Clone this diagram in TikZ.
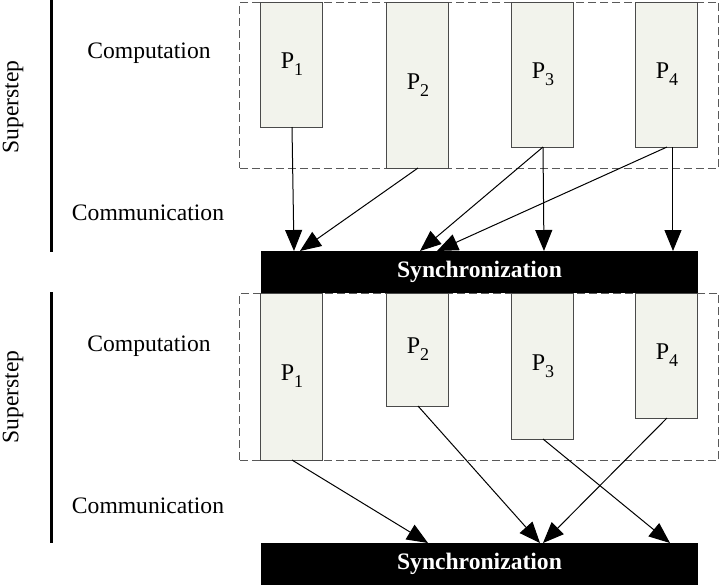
\documentclass[tikz,border=0pt]{standalone}
\usepackage{fontspec}
\setmainfont{Liberation Serif}
\usetikzlibrary{arrows.meta}
\definecolor{pfill}{HTML}{F2F3EC}
\definecolor{pedge}{HTML}{4A4A4A}
\newcommand{\psub}[1]{P\raisebox{-0.3em}{\fontsize{9}{10}\selectfont #1}}
\tikzset{
  txt/.style={font=\fontsize{11.8}{14}\selectfont, inner sep=0pt},
  pbox/.style={draw=pedge, fill=pfill, line width=0.5pt, anchor=north west,
    inner sep=0pt, outer sep=0pt, minimum width=31pt,
    font=\fontsize{12}{14}\selectfont},
  syncbar/.style={fill=black, anchor=north west, inner sep=0pt, outer sep=0pt,
    minimum width=218.5pt, minimum height=21pt, text=white,
    font=\fontsize{11.8}{14}\selectfont\bfseries},
  dashbox/.style={draw=black!65, dashed, dash pattern=on 4pt off 2pt, line width=0.5pt,
    anchor=north west, inner sep=0pt, outer sep=0pt, minimum width=239.5pt},
  flow/.style={-{Triangle[length=10.5pt,width=8.5pt]}, line width=0.5pt},
  bar/.style={line width=1.5pt}
}
\begin{document}
\begin{tikzpicture}[x=0.5pt,y=-0.5pt]
\useasboundingbox (0,0) rectangle (720,585);
% left labels
\coordinate (b1s) at (52,0);
\coordinate (b1e) at (52,252);
\coordinate (b2s) at (52,292);
\coordinate (b2e) at (52,543);
\draw[bar] (b1s) -- (b1e);
\draw[bar] (b2s) -- (b2e);
\node[txt, rotate=90] (ss1) at (13,107) {Superstep};
\node[txt, rotate=90] (ss2) at (13,397) {Superstep};
\node[txt] (comp1) at (149,53) {Computation};
\node[txt] (comm1) at (148,213) {Communication};
\node[txt] (comp2) at (149,346) {Computation};
\node[txt] (comm2) at (148,506) {Communication};
% dashed boxes
\node[dashbox, minimum height=83pt] (d1) at (240,2) {};
\node[dashbox, minimum height=83.5pt] (d2) at (240,293) {};
% top processors
\node[pbox, minimum height=62.5pt] (a1) at (261,2) {\psub{1}};
\node[pbox, minimum height=83pt] (a2) at (387,2) {\psub{2}};
\node[pbox, minimum height=72.5pt] (a3) at (512,2) {\psub{3}};
\node[pbox, minimum height=72.5pt] (a4) at (636,2) {\psub{4}};
% sync bars
\node[syncbar] (s1) at (261,251) {Synchronization};
\node[syncbar] (s2) at (261,543) {Synchronization};
% bottom processors
\node[pbox, minimum height=83.5pt] (c1) at (261,293) {\psub{1}};
\node[pbox, minimum height=56.5pt] (c2) at (387,293) {\psub{2}};
\node[pbox, minimum height=73pt] (c3) at (512,293) {\psub{3}};
\node[pbox, minimum height=62.5pt] (c4) at (636,293) {\psub{4}};
% arrow tips on first bar
\coordinate (t1) at (294,251);
\coordinate (t2) at (300,251);
\coordinate (t3) at (420,251);
\coordinate (t4) at (437,251);
\coordinate (t5) at (544,251);
\coordinate (t6) at (673,251);
\draw[flow] (a1.south) -- (t1);
\draw[flow] (a2.south) -- (t2);
\draw[flow] (a3.south) -- (t3);
\draw[flow] (a4.south) -- (t4);
\draw[flow] (a3.south) -- (t5);
\draw[flow] ([xshift=3pt]a4.south) -- (t6);
% arrow tips on second bar
\coordinate (u1) at (428,543);
\coordinate (u2) at (540,543);
\coordinate (u3) at (543,543);
\coordinate (u4) at (670,543);
\draw[flow] (c1.south) -- (u1);
\draw[flow] (c2.south) -- (u2);
\draw[flow] (c4.south) -- (u3);
\draw[flow] (c3.south) -- (u4);
\end{tikzpicture}
\end{document}
